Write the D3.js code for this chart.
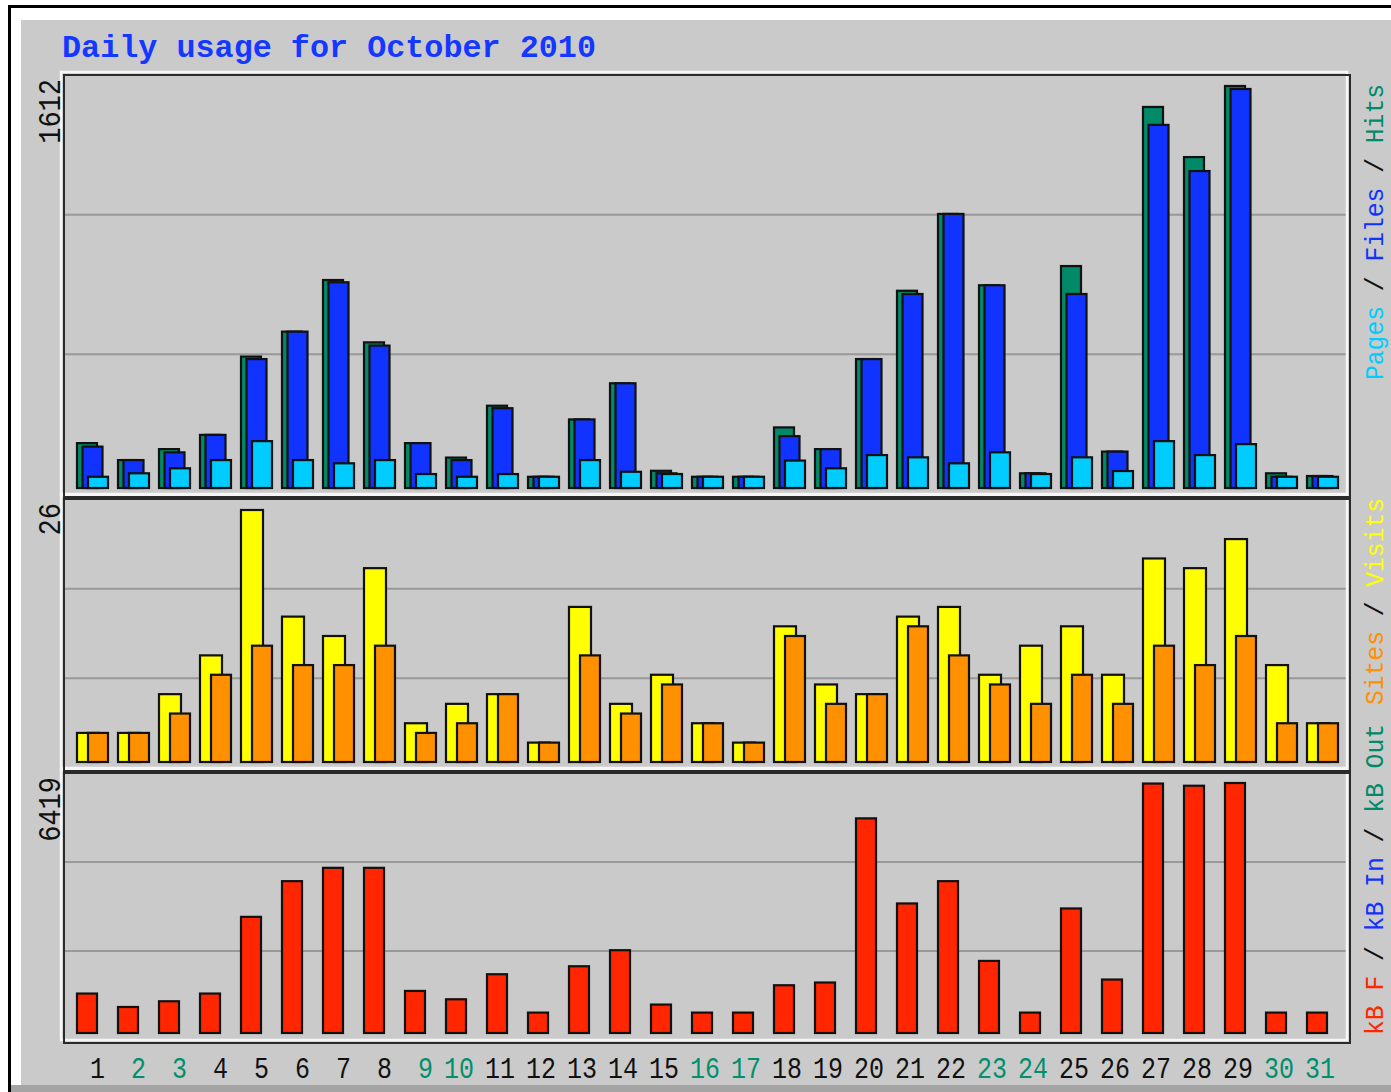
<!DOCTYPE html>
<html>
<head>
<meta charset="utf-8">
<script src="https://cdn.jsdelivr.net/npm/d3@7"></script>
<style>
body { margin: 0; background: #fff; }
svg { display: block; }
</style>
</head>
<body>
<svg id="chart" width="1391" height="1092"></svg>
<script>
// Daily usage for October 2010
const days = d3.range(1, 32)
const weekend = [2, 3, 9, 10, 16, 17, 23, 24, 30, 31]

const hits  = [180, 112, 156, 213, 527, 627, 834, 584, 180, 122, 330, 45, 275, 420, 69, 45, 45, 243, 156, 517, 791, 1099, 813, 59, 890, 146, 1528, 1327, 1612, 59, 48]
const files = [166, 112, 143, 213, 517, 627, 825, 571, 180, 112, 320, 45, 275, 420, 59, 45, 45, 208, 156, 517, 778, 1099, 813, 59, 778, 146, 1456, 1271, 1600, 45, 48]
const pages = [45, 59, 79, 112, 188, 112, 99, 112, 56, 45, 56, 45, 112, 65, 56, 45, 45, 110, 79, 132, 123, 99, 143, 56, 123, 68, 188, 132, 176, 45, 45]

const visits = [3, 3, 7, 11, 26, 15, 13, 20, 4, 6, 7, 2, 16, 6, 9, 4, 2, 14, 8, 7, 15, 16, 9, 12, 14, 9, 21, 20, 23, 10, 4]
const sites  = [3, 3, 5, 9, 12, 10, 10, 12, 3, 4, 7, 2, 11, 5, 8, 4, 2, 13, 6, 7, 14, 11, 8, 6, 9, 6, 12, 10, 13, 4, 4]

const kbF   = [1013, 668, 815, 1013, 2982, 3899, 4241, 4241, 1080, 866, 1509, 524, 1714, 2126, 730, 524, 524, 1226, 1296, 5511, 3326, 3899, 1851, 524, 3198, 1373, 6405, 6349, 6419, 524, 524]
const kbIn  = days.map(() => 0)
const kbOut = days.map(() => 0)

const title = 'Daily usage for October 2010'

const C = {
	bg: '#cacaca',
	hits: '#008a68',
	files: '#1033ff',
	pages: '#00ccff',
	visits: '#ffff00',
	sites: '#ff9000',
	kbF: '#ff2600',
	kbIn: '#1033ff',
	kbOut: '#008a68',
	title: '#1438ff',
	weekend: '#00906c'
}

const W = 1391, H = 1092
const mono = '"Liberation Mono", "DejaVu Sans Mono", monospace'
const svg = d3.select('#chart')

// outer frame
svg.append('rect').attr('x', 0).attr('y', 0).attr('width', W).attr('height', H).attr('fill', '#fff')
svg.append('rect').attr('x', 21).attr('y', 20).attr('width', W - 21).attr('height', 1065).attr('fill', C.bg)
svg.append('rect').attr('x', 11).attr('y', 1085).attr('width', W - 11).attr('height', 7).attr('fill', '#a4a4a4')
svg.append('rect').attr('x', 8).attr('y', 5).attr('width', W - 8).attr('height', 3).attr('fill', '#000')
svg.append('rect').attr('x', 8).attr('y', 5).attr('width', 3).attr('height', H - 5).attr('fill', '#000')

// panels
const x0 = 64, x1 = 1350
const panels = [
	{ y0: 75, y1: 497, base: 488, topY: 86 },
	{ y0: 499, y1: 771, base: 762, topY: 510 },
	{ y0: 773, y1: 1043, base: 1033, topY: 783 }
]

const x = d3.scaleBand().domain(days).range([77, 77 + 31 * 41])

panels.forEach(p => {
	const inner = p.y1 - 3
	;[1, 2].forEach(k => {
		const gy = p.y0 + (inner - p.y0) * k / 3
		svg.append('line')
			.attr('x1', x0).attr('x2', x1 - 3)
			.attr('y1', gy).attr('y2', gy)
			.attr('stroke', '#999').attr('stroke-width', 2)
	})
})

const bevel = svg.append('g').attr('fill', 'none')
panels.forEach(p => {
	bevel.append('rect')
		.attr('x', x0 - 3).attr('y', p.y0 - 3)
		.attr('width', x1 - x0).attr('height', p.y1 - p.y0)
		.attr('stroke', '#f6f6f6').attr('stroke-width', 2.5)
})
panels.forEach(p => {
	bevel.append('rect')
		.attr('x', x0).attr('y', p.y0)
		.attr('width', x1 - x0).attr('height', p.y1 - p.y0)
		.attr('stroke', '#2a2a2a').attr('stroke-width', 2)
})

function drawBars (values, scale, base, offset, width, color) {
	svg.append('g')
		.selectAll('rect')
		.data(days.filter((d, i) => values[i] > 0))
		.join('rect')
		.attr('x', d => x(d) + offset)
		.attr('y', d => scale(values[d - 1]))
		.attr('width', width)
		.attr('height', d => base - scale(values[d - 1]))
		.attr('fill', color)
		.attr('stroke', '#111')
		.attr('stroke-width', 2.2)
}

// hits / files / pages
const y1 = d3.scaleLinear().domain([0, d3.max(hits)]).range([panels[0].base, panels[0].topY])
drawBars(hits, y1, panels[0].base, 0, 20, C.hits)
drawBars(files, y1, panels[0].base, 5.5, 20, C.files)
drawBars(pages, y1, panels[0].base, 11, 20, C.pages)

// visits / sites
const y2 = d3.scaleLinear().domain([0, d3.max(visits)]).range([panels[1].base, panels[1].topY])
drawBars(visits, y2, panels[1].base, 0, 22, C.visits)
drawBars(sites, y2, panels[1].base, 11, 20, C.sites)

// kB
const y3 = d3.scaleLinear().domain([0, d3.max(kbF)]).range([panels[2].base, panels[2].topY])
drawBars(kbF, y3, panels[2].base, 0, 20, C.kbF)
drawBars(kbIn, y3, panels[2].base, 6, 20, C.kbIn)
drawBars(kbOut, y3, panels[2].base, 11, 20, C.kbOut)

// title
svg.append('text')
	.attr('x', 62).attr('y', 57)
	.attr('font-family', mono).attr('font-weight', 'bold').attr('font-size', 31.8)
	.attr('textLength', 534).attr('lengthAdjust', 'spacingAndGlyphs')
	.attr('fill', C.title)
	.text(title)

// max labels on the left
const maxLabels = [d3.max(hits), d3.max(visits), d3.max(kbF)]
maxLabels.forEach((v, i) => {
	svg.append('text')
		.attr('transform', `translate(60, ${panels[i].y0 + 4}) rotate(-90) scale(1, 1.18)`)
		.attr('text-anchor', 'end')
		.attr('font-family', mono).attr('font-size', 27)
		.attr('fill', '#111')
		.text(v)
})

// legends on the right
const legends = [
	{ bottom: 380, len: 296, parts: [['Pages', C.pages], [' / ', '#111'], ['Files', C.files], [' / ', '#111'], ['Hits', C.hits]] },
	{ bottom: 705, len: 207, parts: [['Sites', C.sites], [' / ', '#111'], ['Visits', C.visits]] },
	{ bottom: 1035, len: 311, parts: [['kB F', C.kbF], [' / ', '#111'], ['kB In', C.kbIn], [' / ', '#111'], ['kB Out', C.kbOut]] }
]
legends.forEach(l => {
	const t = svg.append('text')
		.attr('transform', `translate(1383, ${l.bottom}) rotate(-90) scale(1, 1.05)`)
		.attr('font-family', mono).attr('font-size', 24.7)
		.attr('textLength', l.len).attr('lengthAdjust', 'spacingAndGlyphs')
		.attr('xml:space', 'preserve')
		.style('white-space', 'pre')
	l.parts.forEach(([s, c]) => t.append('tspan').attr('fill', c).text(s))
})

// day labels
svg.append('g')
	.selectAll('text')
	.data(days)
	.join('text')
	.attr('transform', d => `translate(${x(d) + 28}, 1078) scale(1, 1.17)`)
	.attr('text-anchor', 'end')
	.attr('font-family', mono).attr('font-size', 25)
	.attr('fill', d => weekend.includes(d) ? C.weekend : '#111')
	.text(d => d)
</script>
</body>
</html>
